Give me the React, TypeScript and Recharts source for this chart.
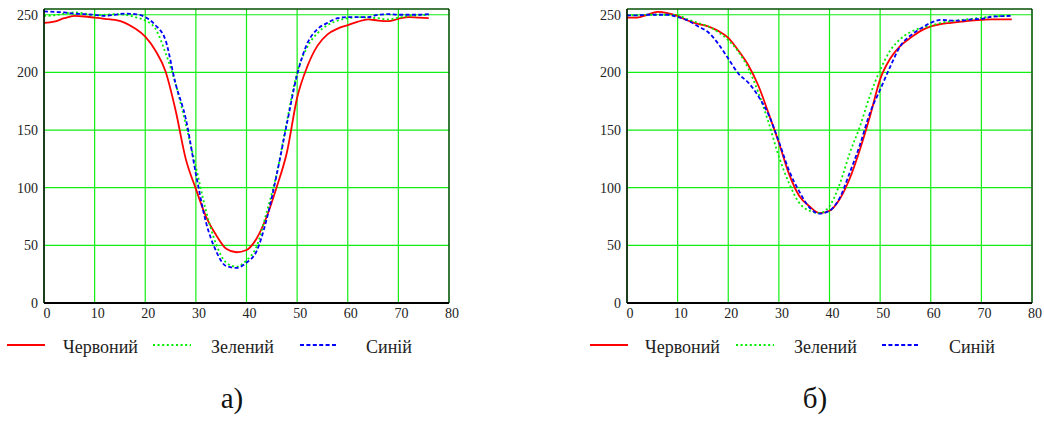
import React from 'react';
import { LineChart, Line, XAxis, YAxis, CartesianGrid, ReferenceLine } from 'recharts';

// sampling positions along the profile (pixels)
const xValues = [0, 2, 4, 6, 8, 10, 12, 14, 16, 18, 20, 22, 24, 26, 28, 30, 32, 34, 36, 38, 40, 42, 44, 46, 48, 50, 52, 54, 56, 58, 60, 62, 64, 66, 68, 70, 72, 74, 76];

// а)
const redA = [243, 244, 247, 249, 248.5, 247.5, 246.5, 245.5, 243, 238, 231, 219, 201, 167, 125, 99, 75, 59, 47, 44, 46, 56, 75, 101, 131, 178, 205, 223, 233, 238, 241, 244, 246, 245, 244.5, 246.5, 248, 247.5, 247];
const greenA = [249, 249.5, 251, 252, 251, 249.5, 250, 250.5, 250, 248, 245, 238, 217, 190, 155, 118, 80, 51, 35, 31.5, 37, 49, 79, 113, 158, 200, 222, 234, 241, 245, 247, 248, 247.5, 247, 246, 247.5, 249, 249.5, 250];
const blueA = [253, 252.5, 252, 251, 250.5, 250, 249, 250, 251, 250.5, 248, 241, 228, 190, 160, 112, 70, 45, 32, 30.5, 35, 45, 73, 112, 156, 198, 225, 237.5, 243, 247, 248, 248, 248, 250, 250.5, 250, 250, 250, 250.5];

// б)
const redB = [247.5, 247.5, 250, 252.5, 251.5, 249, 245, 242, 240, 236, 230, 219, 206, 188, 164, 139, 112, 93, 84, 78, 80, 90, 108, 133, 162, 194, 212, 223, 230, 236, 240, 242, 243, 244, 245, 245.5, 246, 246, 246];
const greenB = [249.5, 249.5, 250, 250, 250, 249.5, 246, 243, 240, 235, 228, 218, 203, 182, 156, 127, 104, 87, 80, 78, 84, 103, 130, 153, 180, 202, 219, 229, 235, 238.5, 240.5, 243, 244.5, 245.5, 246.5, 247.5, 248.5, 249, 249.5];
const blueB = [249.5, 249.5, 250, 250, 250, 248, 245, 240, 235, 225, 212, 199, 191, 179, 163, 140, 115, 97, 83, 77.5, 80, 91, 113, 137, 165, 185, 205, 223, 232, 238, 243, 245.5, 245, 245, 246, 246.5, 248.3, 248.8, 249];

const xTicks = [0, 10, 20, 30, 40, 50, 60, 70, 80];
const yTicks = [0, 50, 100, 150, 200, 250];
const seriesNames = ['Червоний', 'Зелений', 'Синій'];

const FONT = 'Liberation Serif, Times New Roman, Times, DejaVu Serif, serif';
const GRID = '#11ee11';

const styles = [
  { color: '#ff0000', dash: undefined as string | undefined },
  { color: '#00ee00', dash: '2 2.6' },
  { color: '#0000ff', dash: '4 2.4' },
];

function buildRows(red: number[], green: number[], blue: number[]) {
  return xValues.map((x, i) => ({ x, r: red[i], g: green[i], b: blue[i] }));
}

function Panel({ left, rows, caption, legend }: { left: number; rows: any[]; caption: string; legend: number[] }) {
  const tick = { fontSize: 14, fill: '#222', fontFamily: FONT };
  return (
    <>
      <div style={{ position: 'absolute', left, top: 0 }}>
        <LineChart width={460} height={330} data={rows} margin={{ top: 9, right: 11, left: 0, bottom: 0 }}>
          <CartesianGrid stroke={GRID} strokeWidth={1.2} />
          <XAxis
            dataKey="x"
            type="number"
            domain={[0, 80]}
            ticks={xTicks}
            height={27}
            tickLine={false}
            tickSize={0}
            tickMargin={5}
            dx={3}
            tick={tick}
            axisLine={{ stroke: '#000', strokeWidth: 2 }}
          />
          <YAxis
            type="number"
            domain={[0, 255]}
            ticks={yTicks}
            width={44}
            tickLine={false}
            tickSize={0}
            tickMargin={6}
            tick={tick}
            axisLine={{ stroke: '#000', strokeWidth: 1.5 }}
          />
          <ReferenceLine y={255} stroke="#000" strokeWidth={1} />
          <ReferenceLine x={80} stroke="#000" strokeWidth={1} />
          <Line type="monotone" dataKey="r" stroke={styles[0].color} strokeWidth={1.8} dot={false} isAnimationActive={false} />
          <Line type="monotone" dataKey="g" stroke={styles[1].color} strokeWidth={1.8} strokeDasharray={styles[1].dash} dot={false} isAnimationActive={false} />
          <Line type="monotone" dataKey="b" stroke={styles[2].color} strokeWidth={1.8} strokeDasharray={styles[2].dash} dot={false} isAnimationActive={false} />
        </LineChart>
      </div>
      {seriesNames.map((name, i) => (
        <React.Fragment key={name}>
          <svg style={{ position: 'absolute', left: left + legend[i * 2], top: 340 }} width={40} height={10}>
            <line x1={0} y1={5} x2={38} y2={5} stroke={styles[i].color} strokeWidth={2} strokeDasharray={styles[i].dash} />
          </svg>
          <div style={{ position: 'absolute', left: left + legend[i * 2 + 1], top: 336, fontFamily: FONT, fontSize: 18, color: '#222', lineHeight: '22px' }}>
            {name}
          </div>
        </React.Fragment>
      ))}
      <div style={{ position: 'absolute', left: left + 182, width: 100, top: 378, textAlign: 'center', fontFamily: FONT, fontSize: 29, color: '#111', lineHeight: '40px' }}>
        {caption}
      </div>
    </>
  );
}

export default function App() {
  const rowsA = buildRows(redA, greenA, blueA);
  const rowsB = buildRows(redB, greenB, blueB);
  return (
    <div style={{ position: 'absolute', left: 0, top: 0, width: 1044, height: 421, background: '#fff', overflow: 'hidden' }}>
      <Panel left={0} rows={rowsA} caption="а)" legend={[7, 63, 153, 211, 300, 366]} />
      <Panel left={583} rows={rowsB} caption="б)" legend={[7, 62, 153, 211, 299, 366]} />
    </div>
  );
}
